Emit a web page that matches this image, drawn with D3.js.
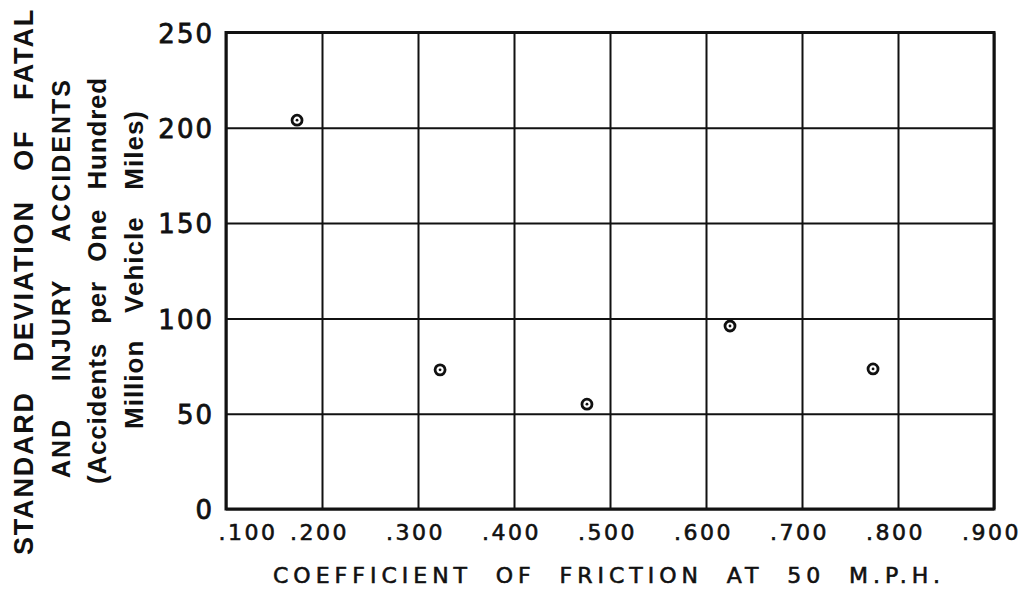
<!DOCTYPE html>
<html>
<head>
<meta charset="utf-8">
<script src="https://cdn.jsdelivr.net/npm/d3@7"></script>
<style>
  html, body { margin: 0; padding: 0; background: #fff; }
  svg { display: block; }
</style>
</head>
<body>
<svg id="chart" width="1033" height="591"></svg>
<script>
// Coefficient of friction at 50 mph vs. standard deviation of accident rate
const frictionValues = [0.174, 0.323, 0.476, 0.625, 0.774];
const stdDevValues   = [204, 73, 55, 96, 73.5];

const xTickValues = [0.1, 0.2, 0.3, 0.4, 0.5, 0.6, 0.7, 0.8, 0.9];
const xTickLabels = [".100", ".200", ".300", ".400", ".500", ".600", ".700", ".800", ".900"];
const yTickValues = [0, 50, 100, 150, 200, 250];
const yTickLabels = ["0", "50", "100", "150", "200", "250"];

const xTitleWords = ["COEFFICIENT", "OF", "FRICTION", "AT", "50", "M.P.H."];
const yTitleLines = [
  ["STANDARD", "DEVIATION", "OF", "FATAL"],
  ["AND", "INJURY", "ACCIDENTS"],
  ["(Accidents", "per", "One", "Hundred"],
  ["Million", "Vehicle", "Miles)"]
];

const svg = d3.select("#chart");
const plot = { left: 226, right: 994, top: 32.5, bottom: 509 };

const x = d3.scaleLinear().domain([0.1, 0.9]).range([plot.left, plot.right]);
const y = d3.scaleLinear().domain([0, 250]).range([plot.bottom, plot.top]);

const tickFont = "'DejaVu Sans', sans-serif";
const titleFont = "'Liberation Sans', Arial, sans-serif";

// lettering style shared by tick labels and the x title
function lettering(sel, size, spacing, weight) {
  sel.attr("fill", "#111")
    .attr("stroke", "#111")
    .attr("stroke-width", weight)
    .style("font-family", tickFont)
    .style("font-size", size + "px")
    .style("letter-spacing", spacing + "px");
}

// vertical grid lines + x tick labels
const xAxis = d3.axisBottom(x)
  .tickValues(xTickValues)
  .tickSize(-(plot.bottom - plot.top))
  .tickPadding(15)
  .tickFormat((d, i) => xTickLabels[i]);

const gx = svg.append("g")
  .attr("transform", `translate(0,${plot.bottom})`)
  .call(xAxis);
gx.select(".domain").remove();
gx.selectAll(".tick line").attr("stroke", "#111").attr("stroke-width", 2);
gx.selectAll(".tick text")
  .call(lettering, 22, 2.5, 0.6)
  .attr("dx", -3);
// the first label sits to the right of its tick, clear of the y labels
gx.select(".tick text").attr("text-anchor", "start").attr("dx", -8);

// horizontal grid lines + y tick labels
const yAxis = d3.axisLeft(y)
  .tickValues(yTickValues)
  .tickSize(-(plot.right - plot.left))
  .tickPadding(12)
  .tickFormat((d, i) => yTickLabels[i]);

const gy = svg.append("g")
  .attr("transform", `translate(${plot.left},0)`)
  .call(yAxis);
gy.select(".domain").remove();
gy.selectAll(".tick line").attr("stroke", "#111").attr("stroke-width", 2);
gy.selectAll(".tick text")
  .call(lettering, 26, 2, 0.8)
  .attr("dy", "0.38em");

// plot frame
svg.append("rect")
  .attr("x", plot.left)
  .attr("y", plot.top)
  .attr("width", plot.right - plot.left)
  .attr("height", plot.bottom - plot.top)
  .attr("fill", "none")
  .attr("stroke", "#111")
  .attr("stroke-width", 3);

// data points: ring with a centre dot
const pts = svg.append("g").selectAll("g")
  .data(frictionValues.map((f, i) => ({ f, s: stdDevValues[i] })))
  .join("g")
  .attr("transform", d => `translate(${x(d.f)},${y(d.s)})`);
pts.append("circle").attr("r", 5).attr("fill", "#fff").attr("stroke", "#111").attr("stroke-width", 2.8);
pts.append("circle").attr("r", 1.4).attr("fill", "#111");

// lays words out so the line fills [start, end] with equal gaps between words
function justify(g, words, start, end, styler) {
  const nodes = words.map(w => g.append("text").text(w).call(styler));
  const widths = nodes.map(n => n.node().getComputedTextLength());
  const total = d3.sum(widths);
  const gap = (end - start - total) / (words.length - 1);
  let pos = start;
  nodes.forEach((n, i) => { n.attr("x", pos); pos += widths[i] + gap; });
}

// x-axis title
const xTitle = svg.append("g").attr("transform", "translate(0,583)");
justify(xTitle, xTitleWords, 273, 945, s => s.call(lettering, 22, 5, 0.6));

// y-axis title, four rotated lines
const yLines = [
  { baseline: 33, from: 555, to: 8, size: 27, spacing: 1.8 },
  { baseline: 70, from: 478, to: 78, size: 25, spacing: 2 },
  { baseline: 106, from: 484, to: 77, size: 26, spacing: 0.8 },
  { baseline: 143, from: 429, to: 110, size: 26, spacing: 1 }
];
yLines.forEach((ln, i) => {
  const g = svg.append("g")
    .attr("transform", `translate(${ln.baseline},0) rotate(-90)`);
  justify(g, yTitleLines[i], -ln.from, -ln.to, s => s
    .attr("fill", "#111")
    .style("font-family", titleFont)
    .style("font-size", ln.size + "px")
    .style("font-weight", "bold")
    .style("letter-spacing", ln.spacing + "px"));
});
</script>
</body>
</html>
